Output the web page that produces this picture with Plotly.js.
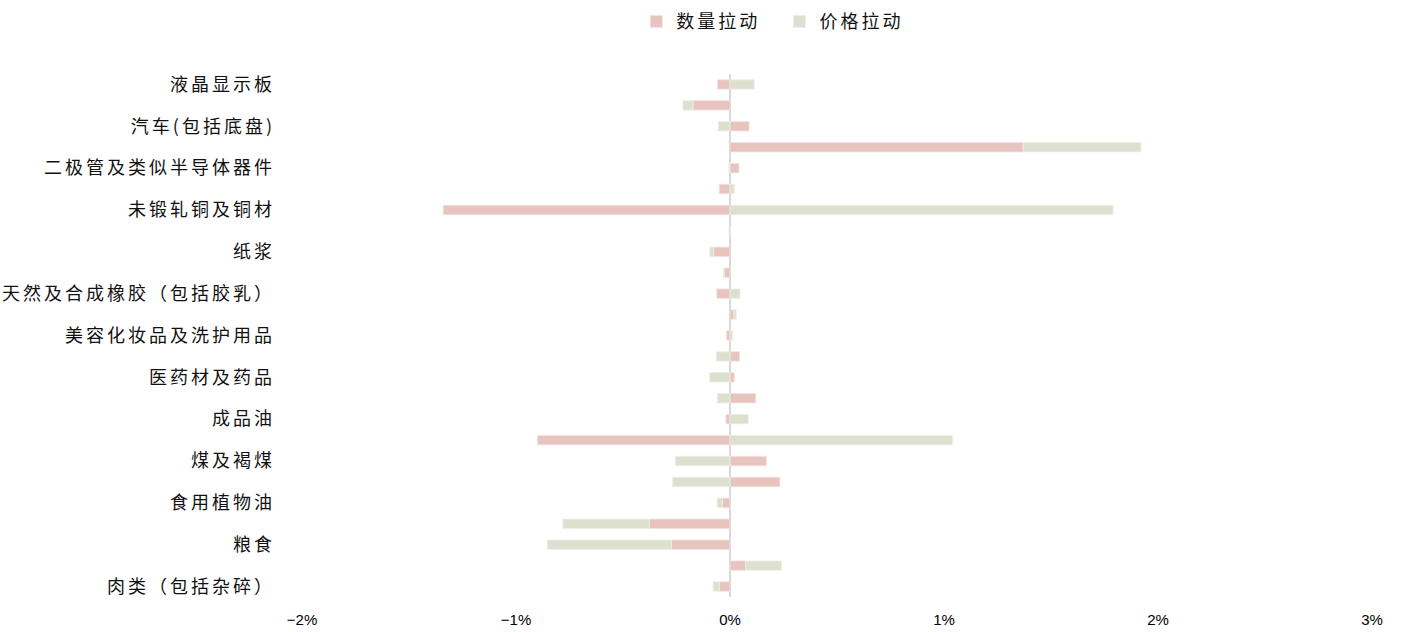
<!DOCTYPE html>
<html><head><meta charset="utf-8">
<script src="https://cdn.plot.ly/plotly-3.0.1.min.js"></script>
<style>
body{margin:0;background:#fff}
#chart{width:1401px;height:632px}
.ytick text{letter-spacing:3px}
.legendtext{letter-spacing:3px}
</style>
</head><body><div id="chart"></div>
<script>
// top to bottom order; only every other category label is shown in the reference
const categories = [
  "液晶显示板", "汽车零配件", "汽车(包括底盘)", "集成电路",
  "二极管及类似半导体器件", "铜矿砂", "未锻轧铜及铜材", "钢材",
  "纸浆", "原木及锯材", "天然及合成橡胶（包括胶乳）", "初级形状的塑料",
  "美容化妆品及洗护用品", "医疗仪器及器械", "医药材及药品", "天然气",
  "成品油", "原油", "煤及褐煤", "铁矿砂",
  "食用植物油", "大豆", "粮食", "水海产品", "肉类（包括杂碎）"
];
const shownLabels = [
  "液晶显示板", "汽车(包括底盘)", "二极管及类似半导体器件", "未锻轧铜及铜材",
  "纸浆", "天然及合成橡胶（包括胶乳）", "美容化妆品及洗护用品", "医药材及药品",
  "成品油", "煤及褐煤", "食用植物油", "粮食", "肉类（包括杂碎）"
];
// contributions, in percentage points
const qty = [
  -0.058, -0.173, 0.089, 1.37,
  0.042, -0.05, -1.34, 0.0,
  -0.076, -0.027, -0.062, 0.017,
  -0.016, 0.044, 0.02, 0.12,
  -0.019, -0.90, 0.17, 0.233,
  -0.035, -0.378, -0.274, 0.073, -0.05
];
const price = [
  0.113, -0.047, -0.055, 0.55,
  -0.005, 0.02, 1.79, -0.005,
  -0.019, -0.004, 0.047, 0.012,
  0.012, -0.064, -0.095, -0.059,
  0.085, 1.04, -0.255, -0.268,
  -0.025, -0.403, -0.579, 0.167, -0.029
];
const seriesNames = ["数量拉动", "价格拉动"];
const xTicks = [-2, -1, 0, 1, 2, 3];

const cjk = '"Noto Sans CJK SC", "Noto Sans CJK JP", sans-serif';
const traces = [
  {type:"bar", orientation:"h", name:seriesNames[0] + "\u00a0\u00a0", x:qty, y:categories,
   marker:{color:"#e8c4bf", line:{color:"#f3e2df", width:0.8}}},
  {type:"bar", orientation:"h", name:seriesNames[1], x:price, y:categories,
   marker:{color:"#dee0cf", line:{color:"#eeefe6", width:0.8}}}
];
const layout = {
  width:1401, height:632,
  margin:{l:302, r:29, t:73.5, b:34.5, autoexpand:false},
  paper_bgcolor:"#fff", plot_bgcolor:"#fff",
  barmode:"relative", bargap:0.55,
  showlegend:true,
  legend:{orientation:"h", x:0.44, xanchor:"center", y:1.1, yanchor:"middle",
          font:{family:cjk, size:18, color:"#111"}, traceorder:"normal"},
  xaxis:{range:[-2,3], tickvals:xTicks, ticktext:xTicks.map(v=>(v<0?"\u2212":"")+Math.abs(v)+"%"),
         showgrid:false, zeroline:true, zerolinecolor:"#d9d9d9", zerolinewidth:2,
         showline:false, ticks:"", ticklabelstandoff:12,
         tickfont:{family:"Liberation Sans, Arial, sans-serif", size:15, color:"#000"}},
  yaxis:{type:"category", categoryorder:"array", categoryarray:categories,
         autorange:"reversed", tickvals:shownLabels, ticktext:shownLabels,
         showgrid:false, zeroline:false, showline:false, ticks:"", ticklabelstandoff:26,
         tickfont:{family:cjk, size:18, color:"#111"}}
};
Plotly.newPlot("chart", traces, layout, {displayModeBar:false, staticPlot:true});
</script>
</body></html>
